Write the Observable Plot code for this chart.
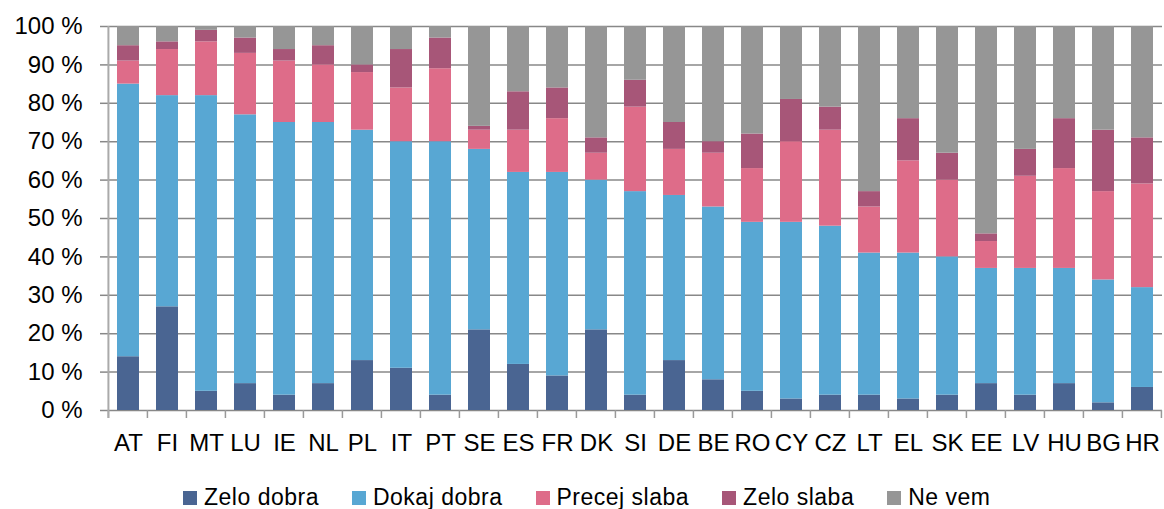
<!DOCTYPE html>
<html>
<head>
<meta charset="utf-8">
<script src="https://cdn.jsdelivr.net/npm/d3@7"></script>
<script src="https://cdn.jsdelivr.net/npm/@observablehq/plot@0.6"></script>
<style>
  html, body { margin: 0; padding: 0; background: #fff; }
  #chart svg text { font-family: "Liberation Sans", Arial, sans-serif; font-size: 24px; fill: #000; }
  #chart g[aria-label="y-axis tick"] { stroke: #888888; stroke-width: 1.5; }
  .legend { display: flex; align-items: center; margin-left: 183px; margin-top: 14px;
            font-family: "Liberation Sans", Arial, sans-serif; font-size: 23px; letter-spacing: 0.5px; color: #000; }
  .legend .item { display: flex; align-items: center; margin-right: 33px; }
  .legend .sw { width: 14px; height: 14px; margin-right: 7px; }
</style>
</head>
<body>
<div id="chart"></div>
<div class="legend" id="legend"></div>
<script>
const countries = ["AT","FI","MT","LU","IE","NL","PL","IT","PT","SE","ES","FR","DK","SI","DE","BE","RO","CY","CZ","LT","EL","SK","EE","LV","HU","BG","HR"];
const seriesNames = ["Zelo dobra","Dokaj dobra","Precej slaba","Zelo slaba","Ne vem"];
const seriesColors = ["#4a6592","#58a7d3","#de6c89","#a75678","#969696"];
const zeloDobra   = [14,27,5,7,4,7,13,11,4,21,12,9,21,4,13,8,5,3,4,4,3,4,7,4,7,2,6];
const dokajDobra  = [71,55,77,70,71,68,60,59,66,47,50,53,39,53,43,45,44,46,44,37,38,36,30,33,30,32,26];
const precejSlaba = [6,12,14,16,16,15,15,14,19,5,11,14,7,22,12,14,14,21,25,12,24,20,7,24,26,23,27];
const zeloSlaba   = [4,2,3,4,3,5,2,10,8,1,10,8,4,7,7,3,9,11,6,4,11,7,2,7,13,16,12];
const neVem       = [5,4,1,3,6,5,10,6,3,26,17,16,29,14,25,30,28,19,21,43,24,33,54,32,24,27,29];
const yTicks = [0,10,20,30,40,50,60,70,80,90,100];

const seriesValues = [zeloDobra, dokajDobra, precejSlaba, zeloSlaba, neVem];
const data = [];
seriesNames.forEach((s, si) => {
  countries.forEach((c, ci) => data.push({country: c, series: s, value: seriesValues[si][ci]}));
});

const chart = Plot.plot({
  width: 1164,
  height: 470,
  marginLeft: 108,
  marginRight: 2,
  marginTop: 26,
  marginBottom: 60,
  style: {fontFamily: "Liberation Sans, Arial, sans-serif", fontSize: "24px", background: "#fff"},
  x: {domain: countries, paddingInner: 0.44, paddingOuter: 0.22, label: null, tickSize: 0, tickPadding: 23},
  y: {domain: [0, 100], ticks: yTicks, tickFormat: d => d + " %", tickSize: 8, tickPadding: 18, label: null},
  color: {domain: seriesNames, range: seriesColors},
  marks: [
    Plot.ruleY(yTicks, {stroke: "#888888", strokeWidth: 1.5}),
    Plot.barY(data, {x: "country", y: "value", fill: "series", order: seriesNames})
  ]
});

// x boundary ticks and y axis line, positioned via the chart's own scales
const sx = chart.scale("x");
const sy = chart.scale("y");
const step = sx.step;
const x0 = sx.apply(countries[0]) - step * sx.paddingInner / 2;
const g = d3.select(chart).append("g");
const y0 = sy.apply(0), y100 = sy.apply(100);
for (let i = 0; i <= countries.length; i++) {
  const xx = x0 + i * step;
  g.append("line").attr("x1", xx).attr("x2", xx).attr("y1", y0).attr("y2", y0 + 8)
    .attr("stroke", "#999").attr("stroke-width", 1.5);
}
g.append("line").attr("x1", x0).attr("x2", x0).attr("y1", y100).attr("y2", y0 + 8)
  .attr("stroke", "#aaa").attr("stroke-width", 2);

document.getElementById("chart").append(chart);

const legend = document.getElementById("legend");
seriesNames.forEach((s, i) => {
  const item = document.createElement("div");
  item.className = "item";
  const sw = document.createElement("span");
  sw.className = "sw";
  sw.style.background = seriesColors[i];
  const t = document.createElement("span");
  t.textContent = s;
  item.append(sw, t);
  legend.append(item);
});
</script>
</body>
</html>
